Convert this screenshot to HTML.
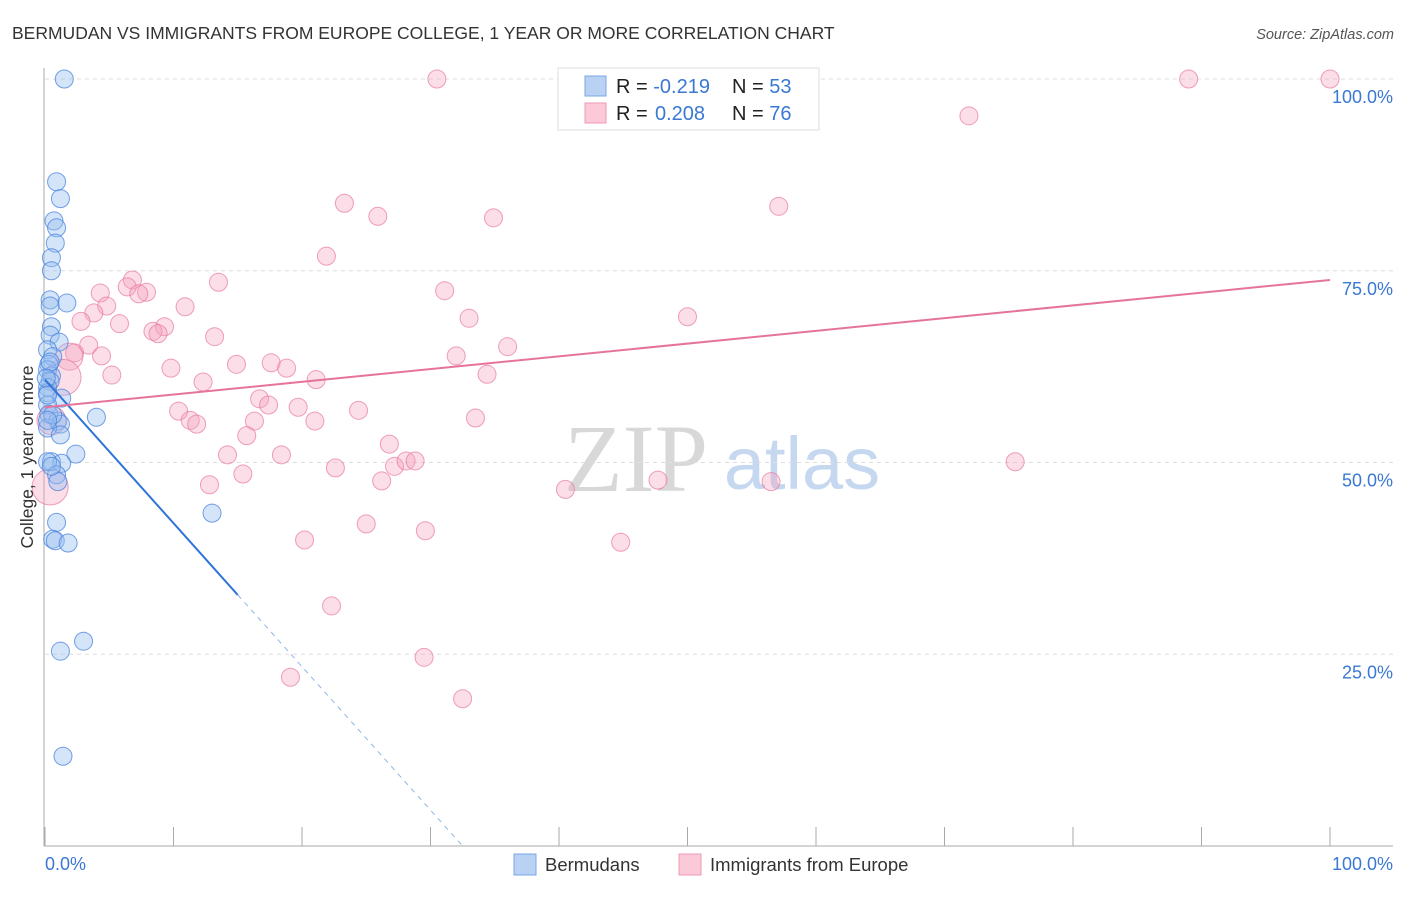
<!DOCTYPE html>
<html><head><meta charset="utf-8"><style>
body{margin:0;background:#fff;font-family:"Liberation Sans",sans-serif}
</style></head><body>
<svg id="chart" width="1406" height="892" xmlns="http://www.w3.org/2000/svg" font-family="Liberation Sans, sans-serif">
<text x="12" y="39" font-size="17.5" fill="#333">BERMUDAN VS IMMIGRANTS FROM EUROPE COLLEGE, 1 YEAR OR MORE CORRELATION CHART</text>
<text x="1394" y="39" font-size="14.5" fill="#555" font-style="italic" text-anchor="end">Source: ZipAtlas.com</text>
<g>
<text x="636" y="491" font-size="96" font-family="Liberation Serif, serif" fill="#d8d8d8" text-anchor="middle">ZIP</text>
<text x="802" y="489" font-size="74" fill="#c6d8f0" text-anchor="middle">atlas</text>
</g>
<g id="grid"></g><g id="axes"></g><g id="pts"></g><g id="trend"></g>
<g>
<rect x="558" y="68" width="261" height="62" fill="#fff" stroke="#ddd"/>
<rect x="585" y="76" width="21" height="20" fill="#b9d2f3" stroke="#7aa7e6"/>
<rect x="585" y="103" width="21" height="20" fill="#fbc9d8" stroke="#ef9ab6"/>
<text x="616" y="93" font-size="20" fill="#222">R = <tspan fill="#3a78d3">-0.219</tspan><tspan x="732">N = </tspan><tspan fill="#3a78d3">53</tspan></text>
<text x="616" y="120" font-size="20" fill="#222">R = <tspan fill="#3a78d3" x="655">0.208</tspan><tspan x="732">N = </tspan><tspan fill="#3a78d3">76</tspan></text>
</g>
<g>
<rect x="514" y="854" width="22" height="21" fill="#b9d2f3" stroke="#7aa7e6"/>
<text x="545" y="871" font-size="18.5" fill="#333">Bermudans</text>
<rect x="679" y="854" width="22" height="21" fill="#fbc9d8" stroke="#ef9ab6"/>
<text x="710" y="871" font-size="18.5" fill="#333">Immigrants from Europe</text>
</g>
<text transform="translate(33,457) rotate(-90)" font-size="17.5" fill="#333" text-anchor="middle">College, 1 year or more</text>
</svg>
<script>
const yTicks=[25,50,75,100];
const yTickLabels=["25.0%","50.0%","75.0%","100.0%"];
const xTickLabels=["0.0%","100.0%"];
const blueX=[1.5,0.9,1.2,0.7,0.9,0.8,0.5,0.5,0.4,1.7,0.4,0.5,0.4,1.1,0.2,0.6,0.3,0.2,0.5,0.4,0.2,0.2,1.3,0.2,4.0,0.3,1.0,1.2,0.2,1.2,2.4,0.5,1.3,0.2,0.9,1.0,0.9,0.6,0.8,1.8,13.0,3.0,1.2,1.4,0.4,0.6,0.2,0.1,0.5,0.2];
const blueY=[100,86.6,84.4,81.5,80.6,78.6,76.7,75.0,71.2,70.8,70.4,67.7,66.6,65.7,64.7,63.8,62.8,62.1,61.3,60.6,59.8,59.1,58.4,57.5,55.9,56.3,55.4,55.0,54.5,53.6,51.1,50.1,49.9,50.1,48.4,47.5,42.2,40.0,39.8,39.5,43.4,26.7,25.4,11.7,63.1,56.2,55.5,61.0,49.5,58.8];
const pinkX=[30.5,89.0,100,71.9,23.3,25.9,34.9,57.1,21.9,6.8,13.5,4.3,6.4,7.9,7.3,4.8,3.8,10.9,31.1,2.8,5.8,9.3,8.4,8.8,13.2,33.0,50.0,3.4,2.3,1.9,4.4,36.0,32.0,5.2,9.8,14.9,17.6,18.8,12.3,21.1,34.4,16.7,17.4,10.4,11.3,11.8,19.7,24.4,21.0,33.5,16.3,15.7,26.8,14.2,18.4,22.6,27.2,28.1,28.8,15.4,26.2,12.8,75.5,47.7,56.5,40.5,25.0,29.6,20.2,44.8,22.3,29.5,19.1,32.5,1.4,0.4,0.5];
const pinkY=[100,100,100,95.2,83.8,82.1,81.9,83.4,76.9,73.8,73.5,72.1,72.9,72.2,72.0,70.4,69.5,70.3,72.4,68.4,68.1,67.7,67.1,66.8,66.4,68.8,69.0,65.3,64.3,63.8,63.9,65.1,63.9,61.4,62.3,62.8,63.0,62.3,60.5,60.8,61.5,58.3,57.5,56.7,55.5,55.0,57.2,56.8,55.4,55.8,55.4,53.5,52.4,51.0,51.0,49.3,49.5,50.2,50.2,48.5,47.6,47.1,50.1,47.7,47.5,46.5,42.0,41.1,39.9,39.6,31.3,24.6,22.0,19.2,61.1,46.8,55.5];
const pinkSize=[1,1,1,1,1,1,1,1,1,1,1,1,1,1,1,1,1,1,1,1,1,1,1,1,1,1,1,1,1,1.5,1,1,1,1,1,1,1,1,1,1,1,1,1,1,1,1,1,1,1,1,1,1,1,1,1,1,1,1,1,1,1,1,1,1,1,1,1,1,1,1,1,1,1,1,2,2,1.6];
const blueTrend=[0,60.8,32.5,0];
const pinkTrend=[0,57.2,100,73.8];
const NS="http://www.w3.org/2000/svg";
const X=v=>45+v*12.85, Y=v=>846-v*7.67;
function mk(t,a,p){const e=document.createElementNS(NS,t);for(const k in a)e.setAttribute(k,a[k]);p.appendChild(e);return e;}
const grid=document.getElementById('grid'),axes=document.getElementById('axes');
yTicks.forEach((t,i)=>{
 const l=mk('line',{x1:45,x2:1393,y1:Y(t),y2:Y(t),stroke:'#ddd','stroke-dasharray':'4,4'},grid);
 
 
 const tx=mk('text',{x:1393,y:Y(t)+24,'font-size':18,fill:'#3a78d3','text-anchor':'end'},axes);
 tx.textContent=yTickLabels[i];
 
 
});
let a=mk('line',{x1:44,x2:44,y1:68,y2:846,stroke:'#aaa'},axes);


a=mk('line',{x1:44,x2:1393,y1:846,y2:846,stroke:'#aaa'},axes);


for(let i=0;i<=10;i++){const tk=mk('line',{x1:X(i*10),x2:X(i*10),y1:827,y2:846,stroke:'#aaa'},axes);
 
 }
let t0=mk('text',{x:45,y:870,'font-size':18,fill:'#3a78d3'},axes);t0.textContent=xTickLabels[0];


let t1=mk('text',{x:1393,y:870,'font-size':18,fill:'#3a78d3','text-anchor':'end'},axes);t1.textContent=xTickLabels[1];


const pts=document.getElementById('pts');
pinkX.forEach((v,i)=>{const c=mk('circle',{cx:X(v),cy:Y(pinkY[i]),r:9*pinkSize[i],fill:'rgba(244,160,190,0.35)',stroke:'rgba(232,120,160,0.7)','stroke-width':1},pts);
 
 });
blueX.forEach((v,i)=>{const c=mk('circle',{cx:X(v),cy:Y(blueY[i]),r:9,fill:'rgba(150,190,240,0.4)',stroke:'rgba(70,130,220,0.75)','stroke-width':1},pts);
 
 });
const tr=document.getElementById('trend');
const slope=(blueTrend[3]-blueTrend[1])/(blueTrend[2]-blueTrend[0]);
const bxEnd=15;
let l=mk('line',{x1:X(blueTrend[0]),y1:Y(blueTrend[1]),x2:X(bxEnd),y2:Y(blueTrend[1]+slope*bxEnd),stroke:'#2f74d9','stroke-width':2},tr);


l=mk('line',{x1:X(bxEnd),y1:Y(blueTrend[1]+slope*bxEnd),x2:X(blueTrend[2]),y2:Y(blueTrend[3]),stroke:'#8fb4e8','stroke-width':1,'stroke-dasharray':'5,5'},tr);


l=mk('line',{x1:X(pinkTrend[0]),y1:Y(pinkTrend[1]),x2:X(pinkTrend[2]),y2:Y(pinkTrend[3]),stroke:'#e5739b','stroke-width':2},tr);


</script>
</body></html>
